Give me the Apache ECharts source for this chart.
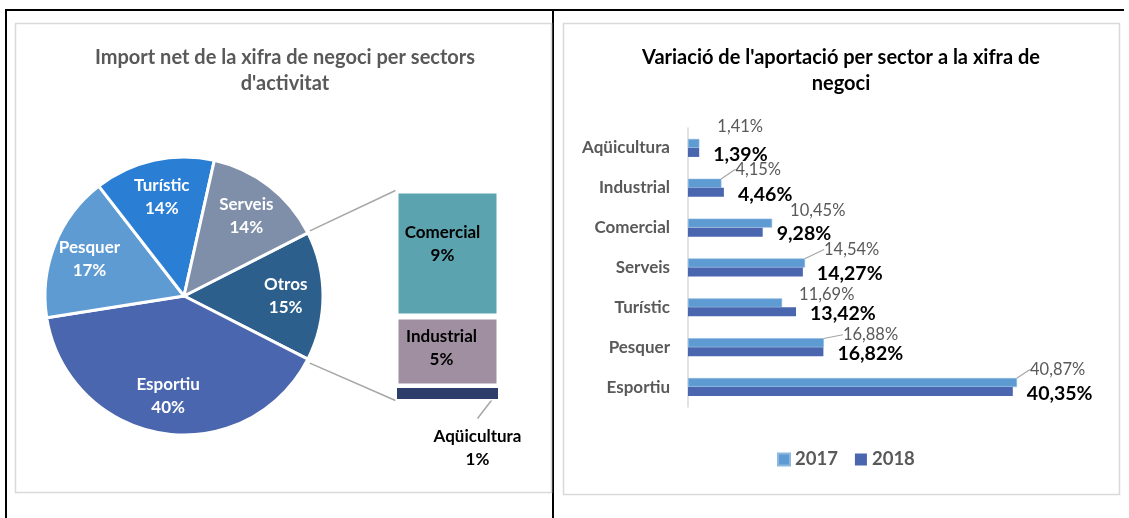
<!DOCTYPE html>
<html><head><meta charset="utf-8">
<script src="https://cdn.jsdelivr.net/npm/echarts/dist/echarts.min.js"></script>
<style>html,body{margin:0;padding:0;background:#fff}#c{width:1129px;height:518px}</style>
</head><body><div id="c"></div>
<script>
// ---- data ----
const pieNames = ['Otros', 'Esportiu', 'Pesquer', 'Turístic', 'Serveis'];
const pieValues = [15, 40, 17, 14, 14];
const subNames = ['Aqüicultura', 'Industrial', 'Comercial'];
const subValues = [1, 5, 9];
const categories = ['Aqüicultura', 'Industrial', 'Comercial', 'Serveis', 'Turístic', 'Pesquer', 'Esportiu'];
const values2017 = [1.41, 4.15, 10.45, 14.54, 11.69, 16.88, 40.87];
const values2018 = [1.39, 4.46, 9.28, 14.27, 13.42, 16.82, 40.35];
const seriesNames = ['2017', '2018'];
const leftTitle = "Import net de la xifra de negoci per sectors\nd'activitat";
const rightTitle = "Variació de l'aportació per sector a la xifra de\nnegoci";

// ---- style ----
const FONT = 'Lato, "Open Sans", sans-serif';
const pieColors = ['#2C5F8C', '#4A66AE', '#5F9BD3', '#2A7FD4', '#7F8FA9'];
const subColors = ['#2E3E6A', '#9F8FA1', '#5BA3AE'];
const barColors = ['#5F9BD3', '#4A66AE'];
const PIE_C = [184, 296], PIE_R = 139;
const SUB = {left: 395.5, top: 190.5, width: 104, height: 210};
const pieSum = pieValues.reduce((a, b) => a + b, 0);
const otrosAngle = 360 * pieValues[0] / pieSum;
const startAngle = otrosAngle / 2;
const lineIdx2017 = [1, 3, 5, 6];
// label nudges for the 2017 labels (style only)
const nudgeX = [18, 14, 18, 19, 17, 19, 13];
const nudgeY = [-17, -14, -12, -13.5, -8, -8, -13];
const fmt = v => v.toFixed(2).replace('.', ',') + '%';

const chart = echarts.init(document.getElementById('c'), null, {renderer: 'canvas'});

const option = {
  backgroundColor: '#fff',
  animation: false,
  textStyle: {fontFamily: FONT},
  title: [
    {text: leftTitle, left: 285, top: 45, textAlign: 'center', padding: 0,
     textStyle: {fontFamily: FONT, fontSize: 20, fontWeight: 'bold', color: '#595959', lineHeight: 26}},
    {text: rightTitle, left: 841, top: 45, textAlign: 'center', padding: 0,
     textStyle: {fontFamily: FONT, fontSize: 20, fontWeight: 'bold', color: '#000', lineHeight: 26}}
  ],
  legend: {
    data: seriesNames, left: 777, top: 450, padding: 0, icon: 'rect', itemWidth: 12, itemHeight: 12, itemGap: 17,
    textStyle: {fontFamily: FONT, fontSize: 18.5, fontWeight: 'bold', color: '#595959'}
  },
  grid: [
    {left: SUB.left, top: SUB.top, width: SUB.width, height: SUB.height},
    {left: 688, top: 128, width: 402.5, height: 279}
  ],
  xAxis: [
    {gridIndex: 0, type: 'category', data: ['x'], show: false},
    {gridIndex: 1, type: 'value', min: 0, max: 50, show: false}
  ],
  yAxis: [
    {gridIndex: 0, type: 'value', min: 0, max: subValues.reduce((a, b) => a + b, 0), show: false},
    {gridIndex: 1, type: 'category', data: categories, inverse: true,
     axisLine: {show: true, lineStyle: {color: '#D9D9D9', width: 1.5}},
     axisTick: {show: false},
     axisLabel: {margin: 18, fontFamily: FONT, fontSize: 17, fontWeight: 'bold', color: '#595959'}}
  ],
  series: [
    {
      type: 'pie', center: PIE_C, radius: PIE_R, startAngle: startAngle, clockwise: true,
      label: {show: false}, labelLine: {show: false},
      itemStyle: {borderColor: '#fff', borderWidth: 3},
      data: pieNames.map((n, i) => ({name: n, value: pieValues[i], itemStyle: {color: pieColors[i]}}))
    },
    {
      type: 'pie', center: PIE_C, radius: [PIE_R * 0.42, PIE_R], startAngle: startAngle, clockwise: true,
      silent: true, z: 5,
      itemStyle: {color: 'rgba(0,0,0,0)', borderWidth: 0},
      label: {show: true, position: 'inside', formatter: p => p.name + '\n' + Math.round(p.percent) + '%',
        color: '#fff', fontFamily: FONT, fontSize: 17, fontWeight: 'bold', lineHeight: 23},
      labelLine: {show: false},
      data: pieNames.map((n, i) => ({name: n, value: pieValues[i]}))
    },
    ...subNames.map((n, i) => ({
      type: 'bar', name: n, xAxisIndex: 0, yAxisIndex: 0, stack: 'sub', barWidth: '100%',
      itemStyle: {color: subColors[i], borderColor: '#fff', borderWidth: i === 0 ? 1.5 : 3},
      label: i === 0 ? {
        show: true, position: 'bottom', distance: 25, offset: [30, 0],
        formatter: p => p.seriesName + '\n' + p.value + '%',
        color: '#000', fontFamily: FONT, fontSize: 17, fontWeight: 'bold', lineHeight: 23
      } : {
        show: true, position: 'inside', offset: i === 2 ? [-5, -9] : [-6, -3],
        formatter: p => p.seriesName + '\n' + p.value + '%',
        color: '#000', fontFamily: FONT, fontSize: 17, fontWeight: 'bold', lineHeight: 23
      },
      data: [subValues[i]]
    })),
    {
      type: 'bar', name: seriesNames[0], xAxisIndex: 1, yAxisIndex: 1, barWidth: 9, barGap: '0%',
      itemStyle: {color: barColors[0], borderColor: '#8DB8E2', borderWidth: 0.6},
      label: {show: true, position: 'right', distance: 0, formatter: p => fmt(p.value),
        color: '#595959', fontFamily: FONT, fontSize: 16.5},
      labelLayout: p => ({dx: nudgeX[p.dataIndex], dy: nudgeY[p.dataIndex]}),
      data: values2017.map((v, i) => ({value: v,
        labelLine: {show: lineIdx2017.includes(i), lineStyle: {color: '#A6A6A6', width: 1.2}}}))
    },
    {
      type: 'bar', name: seriesNames[1], xAxisIndex: 1, yAxisIndex: 1, barWidth: 9, barGap: '0%',
      itemStyle: {color: barColors[1]},
      label: {show: true, position: 'right', distance: 14, offset: [0, 2], formatter: p => fmt(p.value),
        color: '#000', fontFamily: FONT, fontSize: 19.5, fontWeight: 'bold'},
      data: values2018
    }
  ]
};
chart.setOption(option);

// decorative frame + connector lines (computed from the pie geometry and the sub-bar axis)
const rad = a => a * Math.PI / 180;
const pA = [PIE_C[0] + PIE_R * Math.cos(rad(startAngle)), PIE_C[1] - PIE_R * Math.sin(rad(startAngle))];
const pB = [PIE_C[0] + PIE_R * Math.cos(rad(startAngle - otrosAngle)), PIE_C[1] - PIE_R * Math.sin(rad(startAngle - otrosAngle))];
const yTop = chart.convertToPixel({yAxisIndex: 0}, subValues.reduce((a, b) => a + b, 0));
const yBot = chart.convertToPixel({yAxisIndex: 0}, 0);
const xL = SUB.left, xR = SUB.left + SUB.width, xMid = SUB.left + SUB.width / 2;
chart.setOption({
  graphic: [
    {type: 'line', shape: {x1: 6, y1: 10, x2: 1124, y2: 10}, style: {stroke: '#000', lineWidth: 2}},
    {type: 'line', shape: {x1: 6, y1: 9, x2: 6, y2: 518}, style: {stroke: '#000', lineWidth: 2}},
    {type: 'line', shape: {x1: 553, y1: 9, x2: 553, y2: 518}, style: {stroke: '#000', lineWidth: 2}},
    {type: 'rect', shape: {x: 15.5, y: 23.5, width: 536, height: 469}, style: {fill: 'none', stroke: '#D9D9D9', lineWidth: 1.5}},
    {type: 'rect', shape: {x: 563.5, y: 23.5, width: 556, height: 471}, style: {fill: 'none', stroke: '#D9D9D9', lineWidth: 1.5}},
    {type: 'line', shape: {x1: pA[0] + 2, y1: pA[1] - 2, x2: xL, y2: yTop}, style: {stroke: '#A6A6A6', lineWidth: 1.5}},
    {type: 'line', shape: {x1: pB[0] + 2, y1: pB[1] + 4, x2: xL, y2: yBot}, style: {stroke: '#A6A6A6', lineWidth: 1.5}},
    {type: 'line', shape: {x1: xR - 2, y1: yBot - 8, x2: xMid + 30, y2: yBot + 18}, style: {stroke: '#A6A6A6', lineWidth: 1.5}}
  ]
});
</script></body></html>
